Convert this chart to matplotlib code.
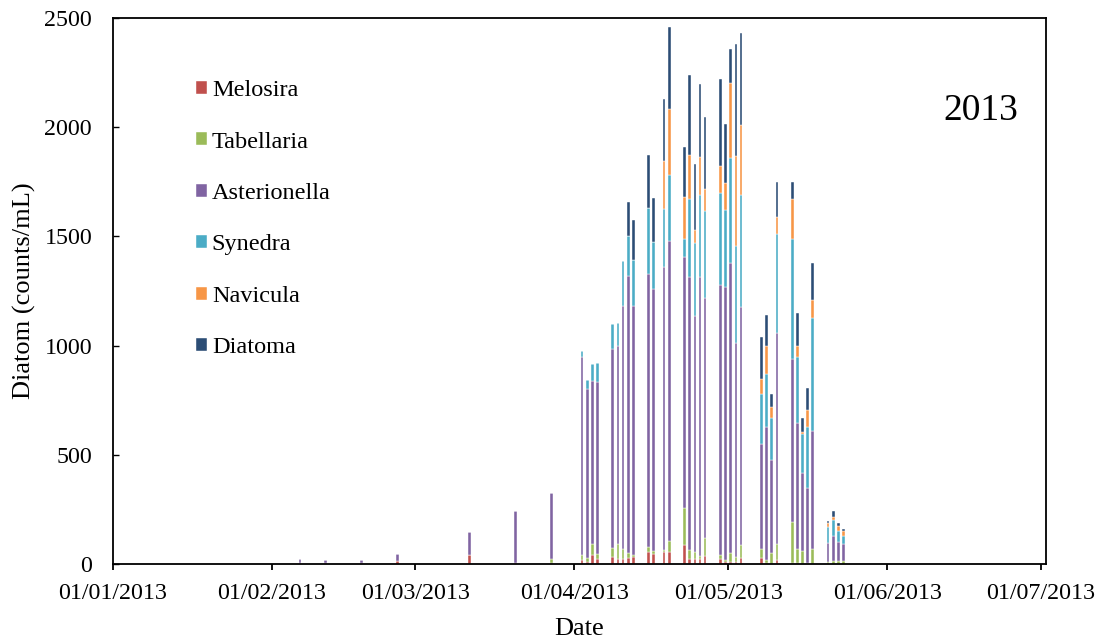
import datetime as dt
import matplotlib
matplotlib.use("Agg")
import matplotlib.pyplot as plt
import matplotlib.dates as mdates
import numpy as np

plt.rcParams['font.family'] = ['Liberation Serif', 'DejaVu Serif']

# sampling dates (2013)
dates = ["2013-02-06", "2013-02-11", "2013-02-18", "2013-02-25", "2013-03-11", "2013-03-20", "2013-03-27",
         "2013-04-02", "2013-04-03", "2013-04-04", "2013-04-05",
         "2013-04-08", "2013-04-09", "2013-04-10", "2013-04-11", "2013-04-12",
         "2013-04-15", "2013-04-16", "2013-04-18", "2013-04-19",
         "2013-04-22", "2013-04-23", "2013-04-24", "2013-04-25", "2013-04-26",
         "2013-04-29", "2013-04-30", "2013-05-01", "2013-05-02", "2013-05-03",
         "2013-05-07", "2013-05-08", "2013-05-09", "2013-05-10",
         "2013-05-13", "2013-05-14", "2013-05-15", "2013-05-16", "2013-05-17",
         "2013-05-20", "2013-05-21", "2013-05-22", "2013-05-23"]

# counts/mL per genus
melosira = [5, 3, 3, 12, 40, 5, 5,
            18, 10, 41, 24,
            33, 24, 24, 29, 31,
            56, 44, 56, 56,
            88, 24, 24, 24, 38,
            23, 11, 11, 11, 29,
            29, 5, 0, 18,
            3, 5, 0, 0, 0,
            0, 0, 0, 0]
tabellaria = [0, 0, 0, 3, 3, 0, 18,
              23, 17, 51, 22,
              40, 69, 45, 21, 10,
              23, 16, 10, 51,
              168, 40, 31, 13, 81,
              18, 7, 38, 20, 59,
              40, 13, 50, 72,
              188, 64, 60, 5, 69,
              11, 14, 14, 14]
asterionella = [20, 17, 17, 30, 102, 238, 304,
                908, 774, 746, 789,
                911, 907, 1112, 1269, 1142,
                1250, 1201, 1295, 1373,
                1151, 1252, 1082, 1279, 1101,
                1238, 1252, 1331, 982, 1089,
                480, 609, 428, 968,
                748, 578, 358, 342, 540,
                87, 114, 88, 78]
synedra = [0, 0, 0, 0, 0, 0, 0,
           26, 41, 78, 84,
           113, 103, 206, 184, 209,
           301, 213, 266, 303,
           81, 355, 334, 375, 398,
           420, 351, 481, 443, 513,
           229, 241, 192, 452,
           549, 299, 179, 280, 519,
           71, 72, 50, 38]
navicula = [0, 0, 0, 0, 0, 0, 0,
            0, 0, 0, 0,
            0, 0, 0, 0, 0,
            0, 0, 218, 299,
            192, 203, 58, 173, 101,
            125, 122, 340, 412, 319,
            69, 130, 47, 79,
            182, 54, 9, 78, 81,
            17, 14, 23, 22]
diatoma = [0, 0, 0, 0, 0, 0, 0,
           0, 0, 0, 0,
           0, 0, 0, 153, 185,
           241, 202, 283, 375,
           231, 365, 301, 334, 326,
           397, 272, 157, 513, 421,
           192, 141, 63, 161,
           80, 148, 61, 99, 169,
           11, 29, 11, 8]

names = ["Melosira", "Tabellaria", "Asterionella", "Synedra", "Navicula", "Diatoma"]
series = [melosira, tabellaria, asterionella, synedra, navicula, diatoma]
colors = ["#C0504D", "#9BBB59", "#8064A2", "#4BACC6", "#F79646", "#2C4D75"]

x = mdates.date2num([dt.datetime.strptime(d, "%Y-%m-%d") for d in dates]) + 0.5

fig = plt.figure(figsize=(11.02, 6.42), dpi=100)
ax = fig.add_axes([0.1025, 0.1215, 0.8467, 0.8505])

bottom = np.zeros(len(dates))
for name, vals, c in zip(names, series, colors):
    vals = np.array(vals, dtype=float)
    ax.bar(x, vals, width=0.52, bottom=bottom, color=c, label=name,
           edgecolor='white', linewidth=0.3)
    bottom += vals

ax.set_xlim(mdates.date2num(dt.datetime(2013, 1, 1)), mdates.date2num(dt.datetime(2013, 7, 2)))
ax.set_ylim(0, 2500)
ax.set_yticks(np.arange(0, 2501, 500))
ax.xaxis.set_major_locator(mdates.MonthLocator())
ax.xaxis.set_major_formatter(mdates.DateFormatter("%d/%m/%Y"))

for s in ax.spines.values():
    s.set_linewidth(1.3)
ax.tick_params(axis='x', direction='out', length=4.5, width=1.3, labelsize=17.3, pad=9)
ax.tick_params(axis='y', direction='in', length=4, width=1.0, labelsize=17.3, pad=15)

ax.set_xlabel("Date", fontsize=19, labelpad=10)
ax.set_ylabel("Diatom (counts/mL)", fontsize=19, labelpad=6)

ax.text(0.930, 0.8295, "2013", transform=ax.transAxes, fontsize=27, ha='center', va='center')

ax.legend(loc='upper left', bbox_to_anchor=(0.089, 0.886), frameon=False, fontsize=17.5,
          handlelength=0.45, handleheight=0.45, handletextpad=0.2, labelspacing=1.25,
          borderpad=0, borderaxespad=0)

fig.savefig("out.png", dpi=100)
